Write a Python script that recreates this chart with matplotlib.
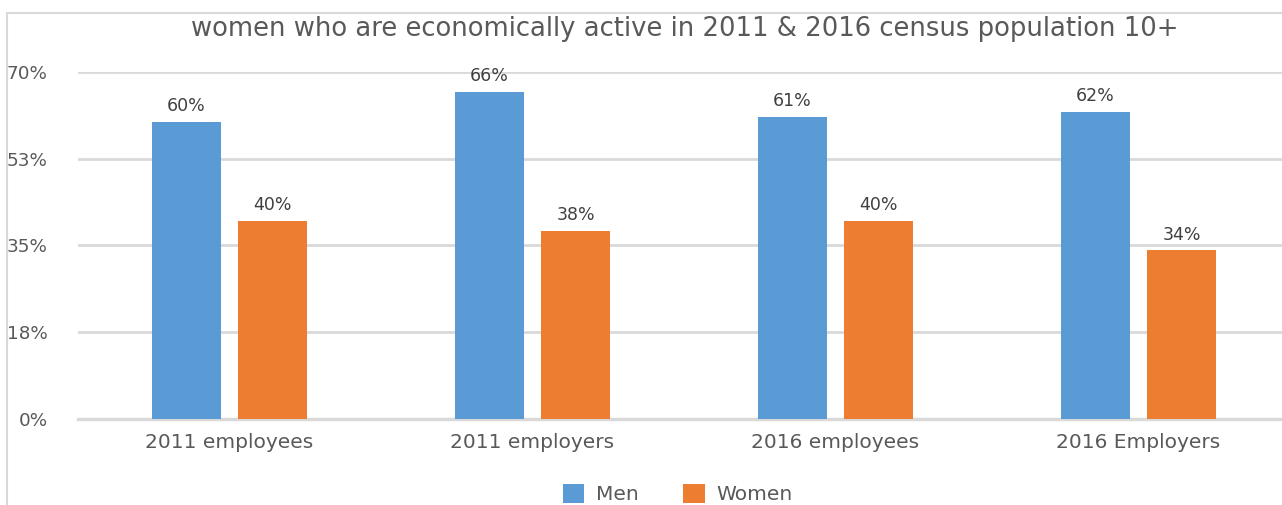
import matplotlib
matplotlib.use('Agg')
import matplotlib.pyplot as plt
import numpy as np
from matplotlib.patches import Rectangle

# datos
categorias = ['2011 employees', '2011 employers', '2016 employees', '2016 Employers']
hombres = [60, 66, 61, 62]
mujeres = [40, 38, 40, 34]
ticks_y = [0, 17.5, 35, 52.5, 70]
etiquetas_y = ['0%', '18%', '35%', '53%', '70%']
titulo = 'women who are economically active in 2011 & 2016 census population 10+'

azul = '#5b9bd5'
naranja = '#ed7d31'
gris_texto = '#595959'
gris_linea = '#d9d9d9'

plt.rcParams['font.family'] = ['DejaVu Sans']

W, H = 1282, 505
paso = 303.0  # px por categoria
x0 = 78.0
fig = plt.figure(figsize=(W / 100, H / 100), dpi=100)

# eje: 0% en y=419 px, 70% en y=72 px
ax = fig.add_axes([x0 / W, (H - 419) / H, (W - x0) / W, 347 / H])

x = np.arange(len(categorias))
ancho = 0.225
b1 = ax.bar(x - 0.142, hombres, ancho, color=azul, label='Men', zorder=3)
b2 = ax.bar(x + 0.142, mujeres, ancho, color=naranja, label='Women', zorder=3)

for barras, vals in ((b1, hombres), (b2, mujeres)):
    for b, v in zip(barras, vals):
        ax.annotate('{}%'.format(v), (b.get_x() + b.get_width() / 2, v),
                    xytext=(0, 5), textcoords='offset points',
                    ha='center', va='bottom', fontsize=12.5, color='#404040')

ax.set_xlim(-0.5, -0.5 + (W - x0) / paso)
ax.set_ylim(0, 70)
ax.set_yticks(ticks_y)
ax.set_yticklabels(etiquetas_y)
ax.set_xticks(x)
ax.set_xticklabels(categorias)
ax.yaxis.grid(True, color=gris_linea, linewidth=2, zorder=0)
ax.axhline(0, color=gris_linea, linewidth=2.5, zorder=1, clip_on=False)
ax.tick_params(axis='both', length=0, colors=gris_texto)
ax.tick_params(axis='y', labelsize=13.2, pad=22)
ax.tick_params(axis='x', labelsize=14.5, pad=10)
for s in ax.spines.values():
    s.set_visible(False)

fig.text(685 / W, 1 - 29 / H, titulo, ha='center', va='center',
         fontsize=18.6, color=gris_texto)

# marco del grafico
fig.patches.append(Rectangle((7 / W, -0.1), 1.2, (H - 13) / H + 0.1,
                             transform=fig.transFigure, fill=False,
                             edgecolor=gris_linea, linewidth=1.5))

fig.legend(loc='upper center', bbox_to_anchor=(678 / W, 1 - 466 / H),
           ncol=2, frameon=False, fontsize=14.5, handlelength=1.05,
           handleheight=1.05, handletextpad=0.6, columnspacing=2.2,
           labelcolor=gris_texto)

fig.savefig('out.png', dpi=100)
